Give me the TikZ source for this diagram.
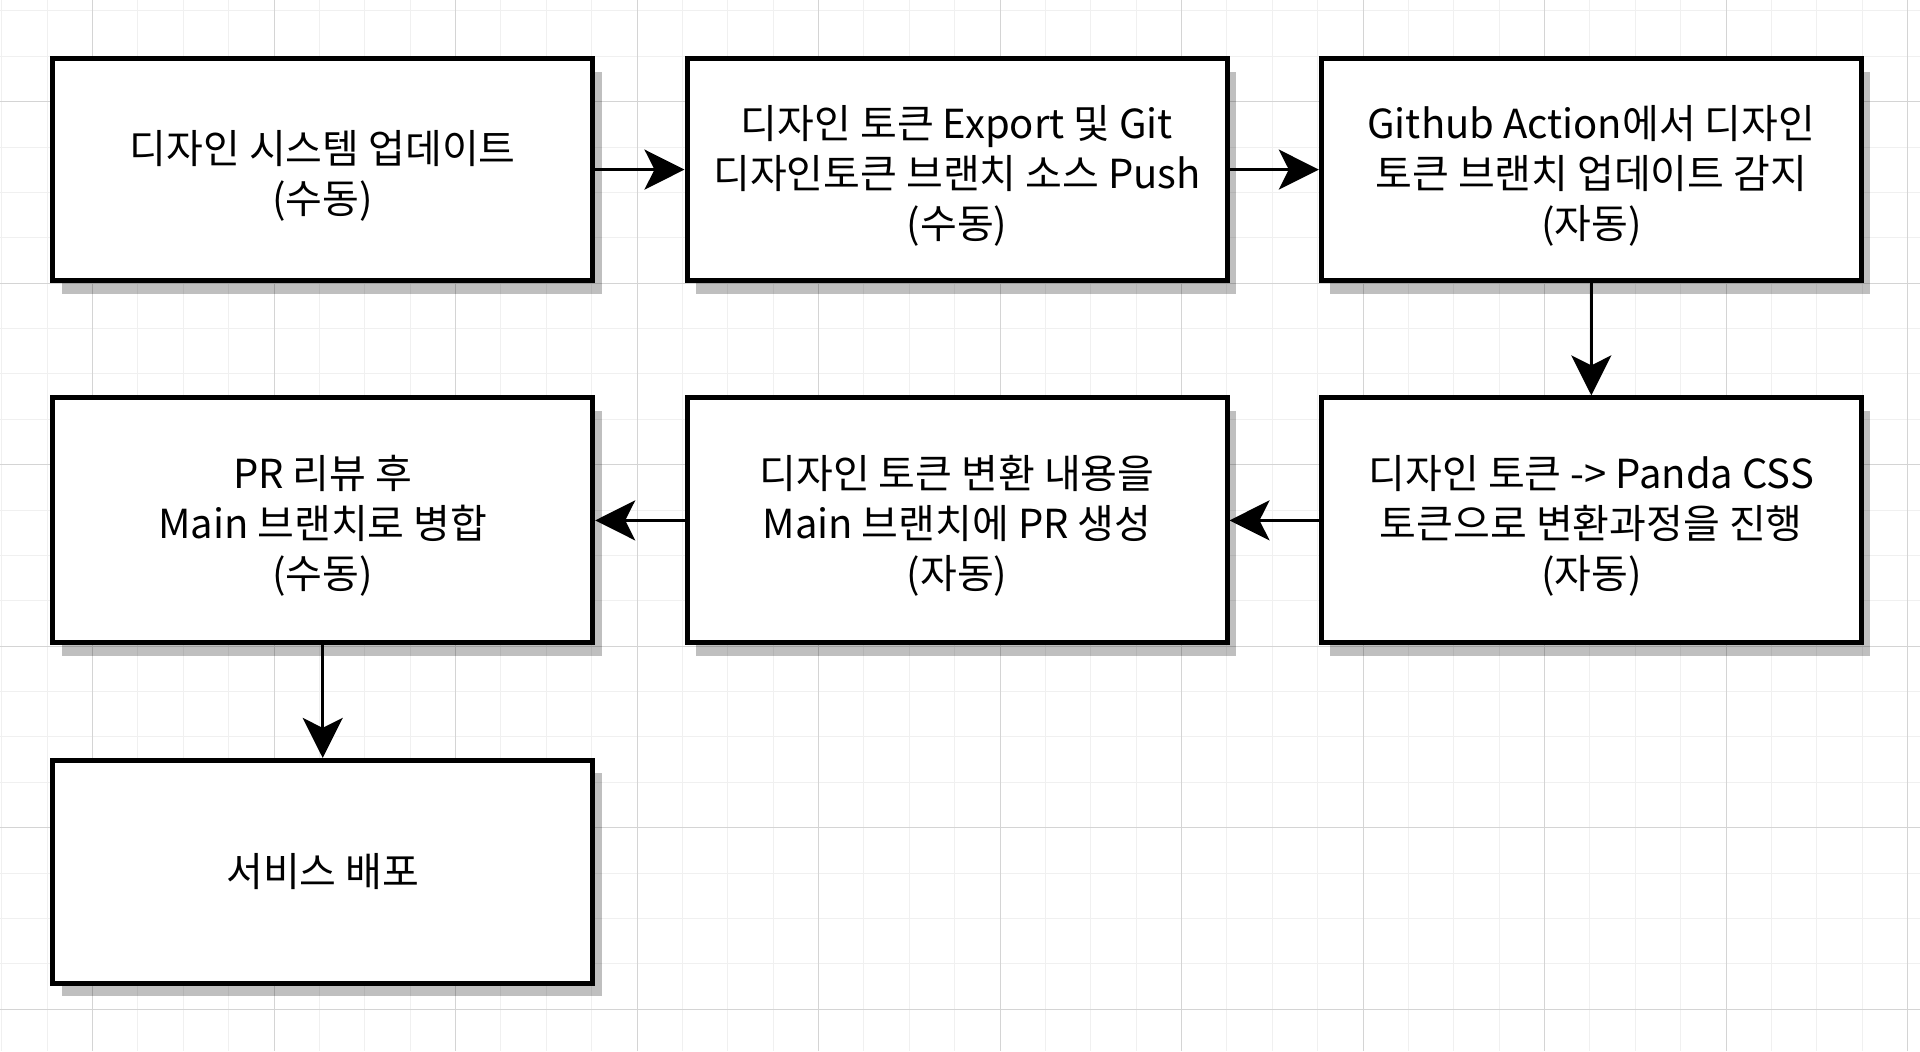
\documentclass[tikz,border=0pt]{standalone}
\usepackage{fontspec}
\setmainfont{Noto Sans CJK KR}
\usetikzlibrary{arrows.meta,shadows}
\definecolor{gridminor}{HTML}{F0F0F0}
\definecolor{gridmajor}{HTML}{D4D4D4}
% a little room above the first line, so the text sits as low as in the sketch
\newcommand{\topgap}{\rule{0pt}{22.5pt}}

\begin{document}
\begin{tikzpicture}[x=0.5pt,y=0.5pt,
    flowbox/.style={draw,line width=2.5pt,fill=white,align=center,inner sep=0pt,
      minimum width=270pt,minimum height=111pt,
      font=\fontsize{20pt}{25pt}\selectfont,
      drop shadow={shadow xshift=4.5pt,shadow yshift=-6.5pt,fill=black,opacity=0.25}},
    tall/.style={minimum height=122.5pt},
    flow/.style={line width=1.5pt,-{Stealth[length=20pt,width=20pt,inset=5pt]}}]
      \useasboundingbox (0,0) rectangle (1920,1051);
      % grid paper
      \fill[white] (0,0) rectangle (1920,1051);
      \foreach \i in {0,...,42}
        \draw[gridminor,line width=0.5pt] ({1.75+45.375*\i},0) -- ({1.75+45.375*\i},1051);
      \foreach \j in {0,...,22}
        \draw[gridminor,line width=0.5pt] (0,{1040.05-45.375*\j}) -- (1920,{1040.05-45.375*\j});
      \foreach \i in {0,...,10}
        \draw[gridmajor,line width=0.5pt] ({92.5+181.5*\i},0) -- ({92.5+181.5*\i},1051);
      \foreach \j in {0,...,5}
        \draw[gridmajor,line width=0.5pt] (0,{949.3-181.5*\j}) -- (1920,{949.3-181.5*\j});
      % steps
      \node[flowbox] (update) at (322.7,881.4) {\topgap 디자인 시스템 업데이트\\(수동)};
      \node[flowbox] (export) at (957,881.4) {\topgap 디자인 토큰 Export 및 Git\\디자인토큰 브랜치 소스 Push\\(수동)};
      \node[flowbox] (detect) at (1591.3,881.4) {\topgap Github Action에서 디자인\\토큰 브랜치 업데이트 감지\\(자동)};
      \node[flowbox,tall] (convert) at (1591.3,530.6) {\topgap 디자인 토큰 -> Panda CSS\\토큰으로 변환과정을 진행\\(자동)};
      \node[flowbox,tall] (pr) at (957,530.6) {\topgap 디자인 토큰 변환 내용을\\Main 브랜치에 PR 생성\\(자동)};
      \node[flowbox,tall] (merge) at (322.7,530.6) {\topgap PR 리뷰 후\\Main 브랜치로 병합\\(수동)};
      \node[flowbox,minimum height=111.5pt] (deploy) at (322.7,179.1) {서비스 배포};
      % flow
      \draw[flow] (update) -- (export);
      \draw[flow] (export) -- (detect);
      \draw[flow] (detect) -- (convert);
      \draw[flow] (convert) -- (pr);
      \draw[flow] (pr) -- (merge);
      \draw[flow] (merge) -- (deploy);
    \end{tikzpicture}
\end{document}
